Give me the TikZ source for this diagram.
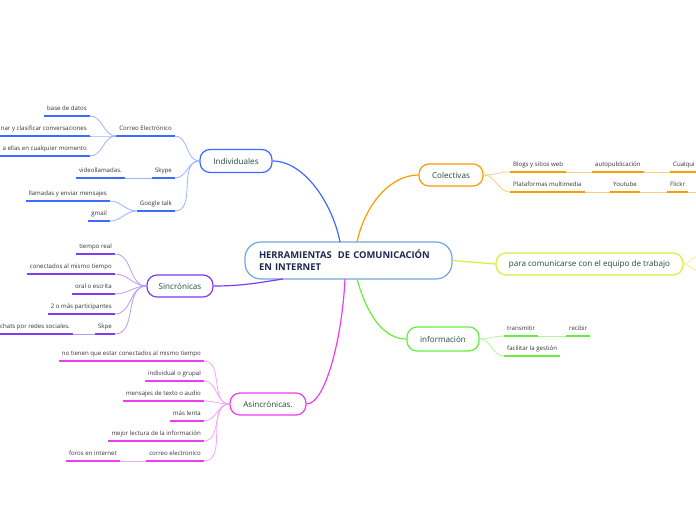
\documentclass[tikz,border=0pt]{standalone}
\usepackage{fontspec}
\setmainfont{Open Sans}
\definecolor{cblue}{HTML}{3D6BFF}
\definecolor{cbluel}{HTML}{9DB3FF}
\definecolor{cpur}{HTML}{7F3CF0}
\definecolor{cpurl}{HTML}{B99CF5}
\definecolor{cmag}{HTML}{F03CF0}
\definecolor{cmagl}{HTML}{F7A5F7}
\definecolor{corg}{HTML}{FF9A00}
\definecolor{corgl}{HTML}{FFCC80}
\definecolor{cyel}{HTML}{D9EE3A}
\definecolor{cyell}{HTML}{E8F48A}
\definecolor{cgrn}{HTML}{66EE3C}
\definecolor{cgrnl}{HTML}{B5F59E}
\definecolor{ccen}{HTML}{6FA8DC}
\definecolor{ctxt}{HTML}{1F4A3A}
\definecolor{cnavy}{HTML}{1B2A4E}
\definecolor{cleaf}{HTML}{333333}
\tikzset{
  lbl/.style={font=\fontsize{6.1}{7}\selectfont, text=cleaf, inner xsep=3pt, inner ysep=3.5pt, text height=4.5pt, text depth=1.5pt},
  mainbox/.style={draw=#1, line width=1.2pt, rounded corners=10pt, fill=white, text=ctxt,
     font=\fontsize{8.1}{9}\selectfont, inner sep=0pt},
  trunk/.style={draw=#1, line width=1.2pt},
  twig/.style={draw=#1, line width=0.8pt},
}
\newcommand\leafL[5]{%
  \node[lbl, anchor=south east] (#1) at (#2,#3) {#4};
  \draw[line width=1.6pt,#5] (#1.south west) -- (#1.south east);}
\newcommand\leafR[5]{%
  \node[lbl, anchor=south west] (#1) at (#2,#3) {#4};
  \draw[line width=1.6pt,#5] (#1.south west) -- (#1.south east);}
\begin{document}
\begin{tikzpicture}[x=1pt,y=-1pt]
\fill[white] (0,0) rectangle (696,520);
\useasboundingbox (0,0) rectangle (696,520);

% central node
\node[draw=ccen, line width=1.2pt, rounded corners=16pt, fill=white, text=cnavy,
  font=\bfseries\fontsize{9.4}{12}\selectfont, text width=179pt, align=left,
  inner xsep=14pt, minimum height=37pt] (C) at (348.5,260.5)
  {HERRAMIENTAS\ \ DE COMUNICACIÓN\\EN INTERNET};

% main nodes
\node[mainbox=cblue, minimum width=72pt, minimum height=23pt] (Ind) at (236,161) {Individuales};
\node[mainbox=cpur, minimum width=66pt, minimum height=22pt] (Sinc) at (180,286) {Sincrónicas};
\node[mainbox=cmag, minimum width=76pt, minimum height=22pt] (Asinc) at (268,404) {Asincrónicas.};
\node[mainbox=corg, minimum width=64pt, minimum height=22pt] (Col) at (451,175) {Colectivas};
\node[mainbox=cyel, minimum width=187pt, minimum height=22pt] (Para) at (589.5,264) {para comunicarse con el equipo de trabajo};
\node[mainbox=cgrn, minimum width=72pt, minimum height=24pt] (Info) at (443,339) {información};

% entry points on central node
\coordinate (cB) at (340,242);
\coordinate (cO) at (357,242);
\coordinate (cP) at (283,279);
\coordinate (cM) at (345,279);
\coordinate (cG) at (357,279);

% trunks
\draw[trunk=cblue] (Ind.east) .. controls (305,161) and (333,205) .. (cB);
\draw[trunk=corg] (cO) .. controls (365,205) and (390,175) .. (Col.west);
\draw[trunk=cpur] (Sinc.east) .. controls (245,286) and (262,282) .. (cP);
\draw[trunk=cmag] (cM) .. controls (342,340) and (325,404) .. (Asinc.east);
\draw[trunk=cgrn] (cG) .. controls (368,318) and (385,339) .. (Info.west);
\draw[trunk=cyel] (C.east) -- (Para.west);

% Individuales leaves
\leafL{correo}{175}{136}{Correo Electrónico}{cblue}
\leafL{skype}{175}{178}{Skype}{cblue}
\leafL{gtalk}{175}{211}{Google talk}{cblue}
\leafL{base}{90}{116}{base de datos}{cblue}
\leafL{nar}{90}{136}{nar y clasificar conversaciones}{cblue}
\leafL{ellas}{90}{156}{a ellas en cualquier momento}{cblue}
\leafL{video}{125}{178}{videollamadas.}{cblue}
\leafL{llam}{110}{201}{llamadas y enviar mensajes}{cblue}
\leafL{gmail}{110}{221}{gmail}{cblue}
\foreach \n in {correo,skype,gtalk}
  \draw[twig=cbluel] (Ind.west) to[out=180,in=0] (\n.south east);
\foreach \n in {base,nar,ellas}
  \draw[twig=cbluel] (correo.south west) to[out=180,in=0] (\n.south east);
\draw[twig=cbluel] (skype.south west) -- (video.south east);
\foreach \n in {llam,gmail}
  \draw[twig=cbluel] (gtalk.south west) to[out=180,in=0] (\n.south east);

% Sincronicas leaves
\leafL{treal}{115}{254}{tiempo real}{cpur}
\leafL{conec}{115}{274}{conectados al mismo tiempo}{cpur}
\leafL{oral}{115}{294}{oral o escrita}{cpur}
\leafL{dos}{115}{314}{2 o más participantes}{cpur}
\leafL{skpe}{115}{334}{Skpe}{cpur}
\leafL{chats}{73}{334}{chats por redes sociales.}{cpur}
\foreach \n in {treal,conec,oral,dos,skpe}
  \draw[twig=cpurl] (Sinc.west) to[out=180,in=0] (\n.south east);
\draw[twig=cpurl] (skpe.south west) -- (chats.south east);

% Asincronicas leaves
\leafL{notienen}{204}{361}{no tienen que estar conectados al mismo tiempo}{cmag}
\leafL{indiv}{204}{381}{individual o grupal}{cmag}
\leafL{mens}{204}{401}{mensajes de texto o audio}{cmag}
\leafL{lenta}{204}{421}{más lenta}{cmag}
\leafL{mejor}{204}{441}{mejor lectura de la información}{cmag}
\leafL{celec}{204}{461}{correo electronico}{cmag}
\leafL{foros}{120}{461}{foros en internet}{cmag}
\foreach \n in {notienen,indiv,mens,lenta,mejor,celec}
  \draw[twig=cmagl] (Asinc.west) to[out=180,in=0] (\n.south east);
\draw[twig=cmagl] (celec.south west) -- (foros.south east);

% Colectivas leaves
\leafR{blogs}{510}{172}{Blogs y sitios web}{corg}
\leafR{auto}{592}{172}{autopublicación}{corg}
\leafR{cual}{670}{172}{Cualqui}{corg}
\leafR{plat}{510}{192}{Plataformas multimedia}{corg}
\leafR{yt}{610}{192}{Youtube}{corg}
\leafR{flickr}{667}{192}{Flickr}{corg}
\coordinate (flickrEnd) at (696,192);
\foreach \n in {blogs,plat}
  \draw[twig=corgl] (Col.east) to[out=0,in=180] (\n.south west);
\draw[twig=corgl] (blogs.south east) -- (auto.south west);
\draw[twig=corgl] (auto.south east) -- (cual.south west);
\draw[twig=corgl] (plat.south east) -- (yt.south west);
\draw[twig=corgl] (yt.south east) -- (flickr.south west);
\draw[twig=corgl] (flickr.south east) -- (flickrEnd);

% informacion leaves
\leafR{trans}{504}{336}{transmitir}{cgrn}
\leafR{recib}{566}{336}{recibir}{cgrn}
\leafR{facil}{504}{356}{facilitar la gestión}{cgrn}
\foreach \n in {trans,facil}
  \draw[twig=cgrnl] (Info.east) to[out=0,in=180] (\n.south west);
\draw[twig=cgrnl] (trans.south east) -- (recib.south west);

% para branch stubs
\coordinate (pU) at (697,257);
\coordinate (pD) at (697,270);
\draw[twig=cyell] (Para.east) to[out=0,in=180] (pU);
\draw[twig=cyell] (Para.east) to[out=0,in=180] (pD);
\end{tikzpicture}
\end{document}
